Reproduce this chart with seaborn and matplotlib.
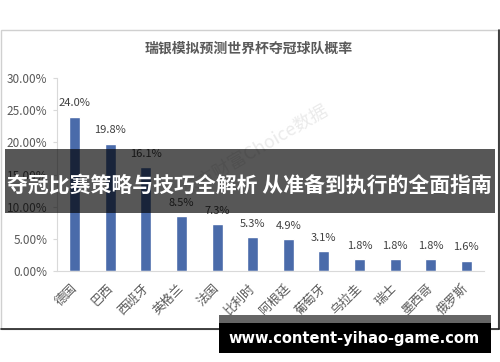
import matplotlib
matplotlib.use("Agg")
import matplotlib.pyplot as plt
import matplotlib.patches as mpatches
from matplotlib.ticker import FuncFormatter
import seaborn as sns
import pandas as pd

# ---- data ----
countries = ["德国", "巴西", "西班牙", "英格兰", "法国", "比利时",
             "阿根廷", "葡萄牙", "乌拉圭", "瑞士", "墨西哥", "俄罗斯"]
probabilities = [24.0, 19.8, 16.1, 8.5, 7.3, 5.3, 4.9, 3.1, 1.8, 1.8, 1.8, 1.6]
y_ticks = [0, 5, 10, 15, 20, 25, 30]
title_text = "瑞银模拟预测世界杯夺冠球队概率"
banner_text = "夺冠比赛策略与技巧全解析 从准备到执行的全面指南"
site_text = "www.content-yihao-game.com"
watermark_text = "东方财富Choice数据"

sns.set_style("white")
plt.rcParams["font.family"] = ["Noto Sans CJK SC", "DejaVu Sans"]

W, H = 500, 362
fig = plt.figure(figsize=(W / 100, H / 100), dpi=100)
fig.patch.set_facecolor("white")

def fx(px):
    return px / W

def fy(py):
    return 1 - py / H

# chart frame
frame = mpatches.Rectangle((fx(1), fy(329)), fx(498) - fx(1), fy(30) - fy(329),
                           transform=fig.transFigure, facecolor="white",
                           edgecolor="#d0d0d0", lw=1, zorder=-2)
fig.patches.append(frame)
fig.add_artist(plt.Line2D([fx(499), fx(499)], [fy(30), fy(329)], transform=fig.transFigure,
                          color="#222222", lw=1.2, zorder=-1))
fig.add_artist(plt.Line2D([fx(1), fx(499)], [fy(329), fy(329)], transform=fig.transFigure,
                          color="#222222", lw=1.2, zorder=-1))

# watermark
fig.text(fx(255), fy(150), watermark_text, ha="center", va="center", fontsize=13,
         rotation=30, color="#ebebeb", zorder=-0.5)

# axes
ax_left, ax_right = 57, 484
ax_top, ax_bottom = 78, 271
ax = fig.add_axes([fx(ax_left), fy(ax_bottom), fx(ax_right - ax_left), (ax_bottom - ax_top) / H])
ax.set_facecolor("none")
ax.set_zorder(1)

df = pd.DataFrame({"country": countries, "prob": probabilities})
sns.barplot(data=df, x="country", y="prob", color="#4A6BAA", saturation=1,
            width=0.31, ax=ax, order=countries)

ax.set_xlim(-0.5, len(countries) - 0.5)
ax.set_ylim(0, 30)
ax.set_yticks(y_ticks)
ax.yaxis.set_major_formatter(FuncFormatter(lambda v, p: f"{v:.2f}%"))
ax.set_xlabel("")
ax.set_ylabel("")

for s in ["top", "right"]:
    ax.spines[s].set_visible(False)
ax.spines["left"].set_color("#d9d9d9")
ax.spines["bottom"].set_color("#d9d9d9")
ax.spines["left"].set_linewidth(0.8)
ax.spines["bottom"].set_linewidth(0.8)

ax.tick_params(axis="y", which="both", left=True, length=3, width=0.8, color="#d9d9d9",
               labelsize=8.5, labelcolor="#595959", pad=4)
ax.tick_params(axis="x", which="both", bottom=False, length=0, labelsize=9,
               labelcolor="#595959", pad=11)
for lab in ax.get_xticklabels():
    lab.set_rotation(45)
    lab.set_ha("right")
    lab.set_va("center")
    lab.set_rotation_mode("anchor")

for cont in ax.containers:
    ax.bar_label(cont, labels=[f"{v:.1f}%" for v in probabilities], padding=6,
                 fontsize=8, color="#404040")

# title
fig.text(fx(249), fy(49), title_text, ha="center", va="center", fontsize=10,
         fontweight="bold", color="#595959")

# dark overlay banner
banner = mpatches.Rectangle((fx(5), fy(213)), fx(490), 64 / H, transform=fig.transFigure,
                            facecolor="black", alpha=0.66, edgecolor="none", zorder=5)
fig.patches.append(banner)
fig.text(fx(249), fy(185), banner_text, ha="center", va="center", fontsize=15,
         fontweight="bold", color="white", zorder=6)

# site banner
strip = mpatches.Rectangle((fx(219), fy(323)), fx(272), 8 / H, transform=fig.transFigure,
                           facecolor="#666666", edgecolor="none", zorder=5)
fig.patches.append(strip)
box = mpatches.Rectangle((fx(219), fy(353)), fx(272), 30 / H, transform=fig.transFigure,
                         facecolor="black", edgecolor="none", zorder=5)
fig.patches.append(box)
fig.text(fx(354), fy(338), site_text, ha="center", va="center", fontsize=10.5,
         fontweight="bold", color="white", family="DejaVu Sans", zorder=6)

fig.savefig("out.png", dpi=100)
